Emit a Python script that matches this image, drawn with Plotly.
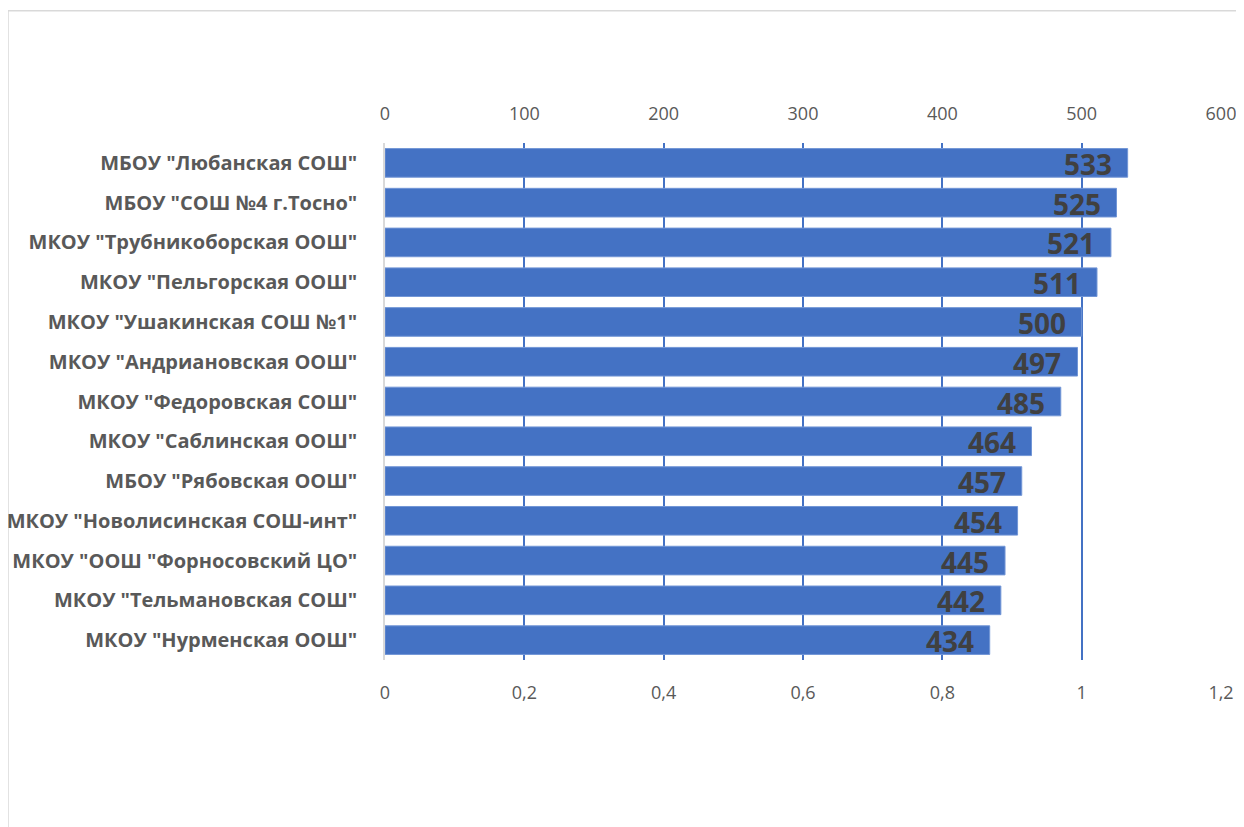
import plotly.graph_objects as go

schools = [
    'МБОУ "Любанская СОШ"',
    'МБОУ "СОШ №4 г.Тосно"',
    'МКОУ "Трубникоборская ООШ"',
    'МКОУ "Пельгорская ООШ"',
    'МКОУ "Ушакинская СОШ №1"',
    'МКОУ "Андриановская ООШ"',
    'МКОУ "Федоровская СОШ"',
    'МКОУ "Саблинская ООШ"',
    'МБОУ "Рябовская ООШ"',
    'МКОУ "Новолисинская СОШ-инт"',
    'МКОУ "ООШ "Форносовский ЦО"',
    'МКОУ "Тельмановская СОШ"',
    'МКОУ "Нурменская ООШ"',
]
scores = [533, 525, 521, 511, 500, 497, 485, 464, 457, 454, 445, 442, 434]

top_ticks = [0, 100, 200, 300, 400, 500, 600]
bottom_ticks = [0, 0.2, 0.4, 0.6, 0.8, 1.0, 1.2]
bottom_labels = ["0", "0,2", "0,4", "0,6", "0,8", "1", "1,2"]

BLUE = "#4472C4"
GRAY = "#595959"
FONT = "Open Sans"

OFF = 8  # page body margin
W, H = 1244 - OFF, 827 - OFF
L = 385 - OFF
R = W - (1221 - OFF)
T = 142.5 - OFF
B = H - (660 - OFF)
pw = W - L - R
ph = H - T - B

fig = go.Figure()
fig.add_trace(go.Bar(
    y=schools, x=scores, orientation="h", xaxis="x2", yaxis="y",
    marker=dict(color=BLUE, line=dict(color="#7296d6", width=1)),
    hoverinfo="x+y", showlegend=False,
))
# anchor trace so that the bottom (secondary scale) axis is drawn
fig.add_trace(go.Scatter(
    x=[bottom_ticks[0]], y=[schools[0]], xaxis="x", yaxis="y",
    mode="markers", marker=dict(opacity=0, size=1), hoverinfo="skip", showlegend=False,
))

annotations = []
for s, v in zip(schools, scores):
    annotations.append(dict(
        x=v, y=s, xref="x2", yref="y", text=str(v), showarrow=False,
        xanchor="right", yanchor="middle", xshift=-14, yshift=-1,
        font=dict(family=FONT, size=28, color="#404040", weight="bold"),
    ))

n = len(schools)
fig.update_layout(
    width=W, height=H,
    margin=dict(l=L, r=R, t=T, b=B, autoexpand=False),
    paper_bgcolor="white", plot_bgcolor="white",
    bargap=0.28,
    separators=", ",
    font=dict(family=FONT, color=GRAY),
    xaxis=dict(
        range=[0, 1.2], tickmode="array", tickvals=bottom_ticks, ticktext=bottom_labels,
        side="bottom", anchor="y", showgrid=False, zeroline=False, showline=False,
        ticks="", ticklabelstandoff=20,
        tickfont=dict(family=FONT, size=18, color=GRAY),
    ),
    xaxis2=dict(
        range=[0, 600], tickmode="array", tickvals=top_ticks,
        overlaying="x", side="top", anchor="y",
        showgrid=True, gridcolor=BLUE, gridwidth=1.5, zeroline=False, showline=False,
        ticks="", ticklabelstandoff=18,
        tickfont=dict(family=FONT, size=18, color=GRAY),
    ),
    yaxis=dict(
        categoryorder="array", categoryarray=schools, range=[n - 0.5, -0.5],
        showline=True, linecolor="#d9d9d9", linewidth=1.5, showgrid=False,
        ticks="", ticklabelstandoff=22,
        tickfont=dict(family=FONT, size=20, color=GRAY, weight="bold"),
    ),
    annotations=annotations,
    shapes=[dict(
        type="rect", xref="paper", yref="paper",
        x0=(0 - L) / pw, x1=(W + 60 - L) / pw,
        y0=-(B + 60) / ph, y1=(ph + T - 2) / ph,
        line=dict(color="#d9d9d9", width=1.5), fillcolor="rgba(0,0,0,0)", layer="below",
    )],
)

fig.write_html("out.html")
